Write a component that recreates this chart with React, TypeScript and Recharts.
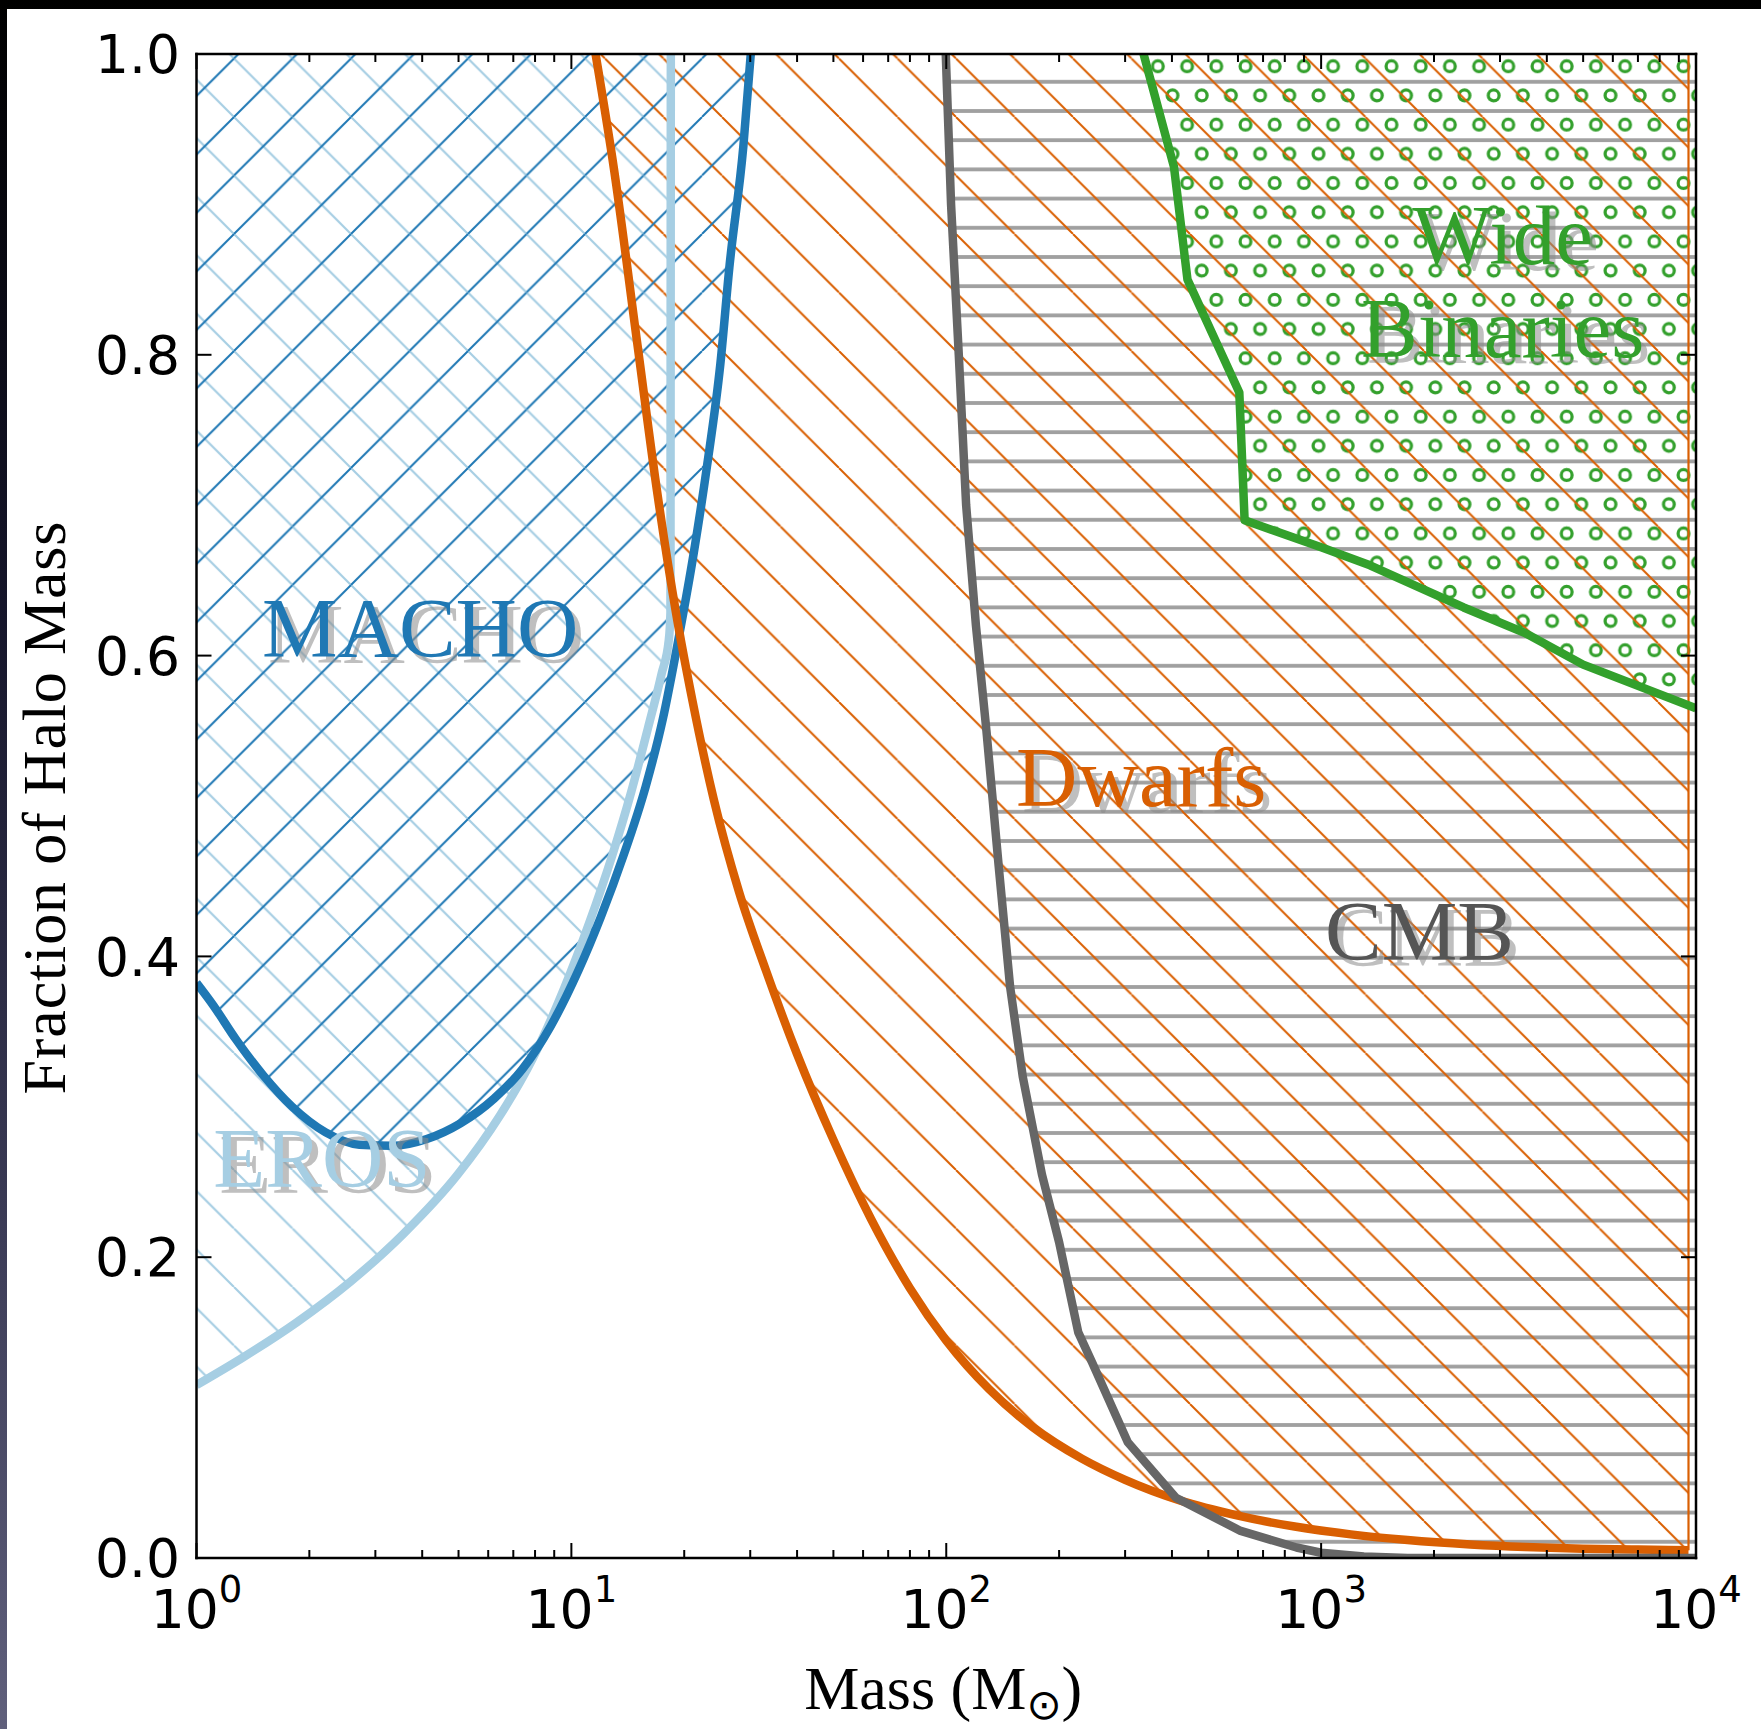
import React from 'react';
import { ComposedChart, Area, Line, XAxis, YAxis, ReferenceDot } from 'recharts';

// ---------------- data ----------------
const massMajorTicks = [1, 10, 100, 1000, 10000];
const massTickExponents = ['0', '1', '2', '3', '4'];
const massMinorTicks = [
  2, 3, 4, 5, 6, 7, 8, 9,
  20, 30, 40, 50, 60, 70, 80, 90,
  200, 300, 400, 500, 600, 700, 800, 900,
  2000, 3000, 4000, 5000, 6000, 7000, 8000, 9000,
];
const fractionTicks = [0, 0.2, 0.4, 0.6, 0.8, 1.0];
const fractionTickLabels = ['0.0', '0.2', '0.4', '0.6', '0.8', '1.0'];

// MACHO microlensing limit
const machoMass = [1.0, 1.109, 1.273, 1.513, 1.797, 2.211, 2.719, 3.345, 4.115, 5.059, 6.224, 7.394, 8.786, 10.44, 11.99, 13.76, 15.79, 17.54, 19.28, 21.21, 23.0, 24.97, 26.39, 28.76, 30.1];
const machoFraction = [0.3824, 0.3674, 0.345, 0.3204, 0.3002, 0.283, 0.2748, 0.2741, 0.2786, 0.289, 0.3055, 0.3249, 0.3532, 0.3906, 0.4264, 0.4668, 0.5131, 0.5579, 0.6102, 0.6684, 0.7259, 0.7939, 0.8581, 0.9388, 1.0];

// EROS microlensing limit
const erosMass = [1.0, 1.335, 1.853, 2.573, 3.573, 4.966, 6.449, 7.868, 9.565, 11.15, 12.84, 14.44, 16.01, 17.4, 18.19, 18.38, 18.42];
const erosFraction = [0.115, 0.1336, 0.1568, 0.1837, 0.2158, 0.2547, 0.2942, 0.3316, 0.3787, 0.422, 0.4668, 0.5093, 0.5519, 0.5878, 0.6102, 0.6288, 1.0];

// Dwarf galaxies limit
const dwarfMass = [11.6, 13, 15, 17, 19, 21, 24, 28, 33, 40, 50, 63, 80, 100, 130, 170, 230, 300, 420, 600, 850, 1200, 1700, 2500, 3500, 5000, 7000, 9550];
const dwarfFraction = [1.0, 0.923, 0.807, 0.706, 0.629, 0.571, 0.504, 0.443, 0.391, 0.335, 0.278, 0.2254, 0.1794, 0.1445, 0.1123, 0.0871, 0.0661, 0.052, 0.0383, 0.0282, 0.0209, 0.0157, 0.0119, 0.009, 0.0073, 0.0062, 0.0056, 0.0052];
const dwarfEdgeMass = [9550, 9550];
const dwarfEdgeFraction = [0.0052, 1.0];

// CMB limit
const cmbMass = [99.7, 103, 108, 113, 120, 128, 138, 148, 160, 180, 200, 225, 245, 305, 410, 610, 860, 1000, 1300, 1700, 3000, 10000];
const cmbFraction = [1.0, 0.90, 0.80, 0.70, 0.62, 0.55, 0.46, 0.38, 0.32, 0.255, 0.21, 0.15, 0.13, 0.077, 0.040, 0.018, 0.007, 0.0035, 0.001, 0, 0, 0];

// Wide binaries limit
const binaryMass = [336, 405, 440, 605, 625, 1000, 1350, 2400, 3500, 5000, 10000];
const binaryFraction = [1.0, 0.925, 0.85, 0.775, 0.69, 0.672, 0.66, 0.632, 0.615, 0.594, 0.565];

// annotations
const annotationText = ['MACHO', 'EROS', 'Dwarfs', 'CMB', 'Wide', 'Binaries'];
const annotationMass = [1.495, 1.109, 153.6, 1024, 3050, 3050];
const annotationFraction = [0.599, 0.2466, 0.4997, 0.3974, 0.8604, 0.7985];

// ---------------- styles ----------------
const C_MACHO = '#1f78b4';
const C_EROS = '#a6cee3';
const C_DWARF = '#d95f02';
const C_CMB = '#666666';
const C_BIN = '#33a02c';
const annotationColors = [C_MACHO, C_EROS, C_DWARF, '#555555', C_BIN, C_BIN];
const annotationAnchors = ['start', 'start', 'start', 'start', 'middle', 'middle'];

const S = 58.5; // diagonal hatch spacing
const P = 29.2; // horizontal / circle hatch spacing
const LW = 8.5; // curve width

const toTable = (ms: number[], fs: number[]) =>
  ms.map((m, i) => ({ m, f: fs[i], band: [fs[i], 1] }));

const machoData = toTable(machoMass, machoFraction);
const erosData = toTable(erosMass, erosFraction);
const dwarfData = toTable(dwarfMass, dwarfFraction);
const dwarfEdge = toTable(dwarfEdgeMass, dwarfEdgeFraction);
const cmbData = toTable(cmbMass, cmbFraction);
const binaryData = toTable(binaryMass, binaryFraction);

const allMassTicks = [...massMajorTicks, ...massMinorTicks].sort((a, b) => a - b);
const majorIndex = (v: number) => massMajorTicks.findIndex((t) => Math.abs(t - v) < 1e-9);

const TICK_FONT = 'DejaVu Sans';
const SERIF = '"Liberation Serif", "Times New Roman", serif';

const BottomTick = (props: any) => {
  const { x, y, payload } = props;
  const idx = majorIndex(payload.value);
  const major = idx >= 0;
  return (
    <g>
      <line x1={x} y1={y} x2={x} y2={y - (major ? 15 : 8)} stroke="#000" strokeWidth={2} />
      {major && (
        <text x={x} y={y + 70} textAnchor="middle" fontFamily={TICK_FONT} fontSize={53.5} fill="#000">
          <tspan>10</tspan>
          <tspan dy={-26} fontSize={37}>{massTickExponents[idx]}</tspan>
        </text>
      )}
    </g>
  );
};

const TopTick = (props: any) => {
  const { x, y, payload } = props;
  const major = majorIndex(payload.value) >= 0;
  return <line x1={x} y1={y} x2={x} y2={y + (major ? 15 : 8)} stroke="#000" strokeWidth={2} />;
};

const LeftTick = (props: any) => {
  const { x, y, payload } = props;
  const idx = fractionTicks.findIndex((t) => Math.abs(t - payload.value) < 1e-9);
  return (
    <g>
      <line x1={x} y1={y} x2={x + 15} y2={y} stroke="#000" strokeWidth={2} />
      <text x={x - 16.5} y={y} dy="0.36em" textAnchor="end" fontFamily={TICK_FONT} fontSize={53.5} fill="#000">
        {fractionTickLabels[idx]}
      </text>
    </g>
  );
};

const RightTick = (props: any) => {
  const { x, y } = props;
  return <line x1={x} y1={y} x2={x - 15} y2={y} stroke="#000" strokeWidth={2} />;
};

const makeAnnotation = (i: number) => (props: any) => {
  const { cx, cy } = props;
  const common = {
    fontFamily: SERIF,
    fontSize: 85,
    textAnchor: annotationAnchors[i] as any,
  };
  return (
    <g>
      <text x={cx + 6} y={cy + 6} fill="#8a8a8a" fillOpacity={0.55} {...common}>
        {annotationText[i]}
      </text>
      <text x={cx} y={cy} fill={annotationColors[i]} {...common}>
        {annotationText[i]}
      </text>
    </g>
  );
};

const XTitle = (props: any) => {
  const vb = props.viewBox || {};
  const cx = vb.x + vb.width / 2 - 3;
  const y = vb.y + 151;
  return (
    <text x={cx} y={y} textAnchor="middle" fontFamily={SERIF} fontSize={62} fill="#000">
      Mass (M
      <tspan dy={10} fontSize={42} fontFamily="DejaVu Sans">⊙</tspan>
      <tspan dy={-10}>)</tspan>
    </text>
  );
};

const YTitle = (props: any) => {
  const vb = props.viewBox || {};
  const x = vb.x + (vb.width || 0) - 131.5;
  const y = vb.y + vb.height / 2 + 2;
  return (
    <text
      transform={`translate(${x}, ${y}) rotate(-90)`}
      textAnchor="middle"
      fontFamily={SERIF}
      fontSize={62}
      fill="#000"
      textLength={573}
      lengthAdjust="spacing"
    >
      Fraction of Halo Mass
    </text>
  );
};

const axisLine = { stroke: '#000', strokeWidth: 2.5, strokeLinecap: 'square' as const };

export default function App() {
  return (
    <div
      style={{
        position: 'absolute',
        left: 0,
        top: 0,
        width: 1761,
        height: 1729,
        overflow: 'hidden',
        background: 'linear-gradient(#000000 0%, #15152a 35%, #3a3a55 70%, #60607c 100%)',
      }}
    >
      <div style={{ position: 'absolute', left: 7, top: 9, right: 0, bottom: 0, background: '#ffffff' }} />
      <div style={{ position: 'absolute', left: 0, top: 0 }}>
        <ComposedChart width={1761} height={1729} margin={{ top: 53, right: 64, bottom: 170, left: 195.5 }}>
          <defs>
            <pattern id="hatchMacho" patternUnits="userSpaceOnUse" width={S} height={S}>
              <path d={`M0,${S} L${S},0 M${-S},${S} L0,0 M${S},${S} L${2 * S},0`} stroke={C_MACHO} strokeWidth={2} />
            </pattern>
            <pattern id="hatchEros" patternUnits="userSpaceOnUse" width={S} height={S}>
              <path d={`M0,0 L${S},${S} M${-S},0 L0,${S} M${S},0 L${2 * S},${S}`} stroke={C_EROS} strokeWidth={2.2} />
            </pattern>
            <pattern id="hatchDwarf" patternUnits="userSpaceOnUse" width={S} height={S} x={20}>
              <path d={`M0,0 L${S},${S} M${-S},0 L0,${S} M${S},0 L${2 * S},${S}`} stroke={C_DWARF} strokeWidth={2} />
            </pattern>
            <pattern id="hatchCmb" patternUnits="userSpaceOnUse" width={P} height={P}>
              <rect x={0} y={23.4 - 1.9} width={P} height={3.8} fill="#a0a0a0" />
            </pattern>
            <pattern id="hatchBin" patternUnits="userSpaceOnUse" width={P} height={2 * P}>
              <circle cx={19.1} cy={7.8} r={5.4} fill="none" stroke={C_BIN} strokeWidth={3.2} />
              <circle cx={19.1 + P / 2 - P} cy={7.8 + P} r={5.4} fill="none" stroke={C_BIN} strokeWidth={3.2} />
              <circle cx={19.1 + P / 2} cy={7.8 + P} r={5.4} fill="none" stroke={C_BIN} strokeWidth={3.2} />
            </pattern>
          </defs>

          <Area data={cmbData} dataKey="band" type="linear" stroke="none" fill="url(#hatchCmb)" fillOpacity={1} isAnimationActive={false} activeDot={false} dot={false} />
          <Area data={binaryData} dataKey="band" type="linear" stroke="none" fill="url(#hatchBin)" fillOpacity={1} isAnimationActive={false} activeDot={false} dot={false} />
          <Area data={dwarfData} dataKey="band" type="monotoneX" stroke="none" fill="url(#hatchDwarf)" fillOpacity={1} isAnimationActive={false} activeDot={false} dot={false} />
          <Area data={erosData} dataKey="band" type="monotoneX" stroke="none" fill="url(#hatchEros)" fillOpacity={1} isAnimationActive={false} activeDot={false} dot={false} />
          <Area data={machoData} dataKey="band" type="monotoneX" stroke="none" fill="url(#hatchMacho)" fillOpacity={1} isAnimationActive={false} activeDot={false} dot={false} />

          <Line data={dwarfEdge} dataKey="f" type="linear" stroke={C_DWARF} strokeWidth={2.2} dot={false} activeDot={false} isAnimationActive={false} />
          <Line data={erosData} dataKey="f" type="monotoneX" stroke={C_EROS} strokeWidth={LW} dot={false} activeDot={false} isAnimationActive={false} />
          <Line data={machoData} dataKey="f" type="monotoneX" stroke={C_MACHO} strokeWidth={LW} dot={false} activeDot={false} isAnimationActive={false} />
          <Line data={dwarfData} dataKey="f" type="monotoneX" stroke={C_DWARF} strokeWidth={LW} dot={false} activeDot={false} isAnimationActive={false} />
          <Line data={cmbData} dataKey="f" type="linear" stroke={C_CMB} strokeWidth={LW} strokeLinejoin="round" dot={false} activeDot={false} isAnimationActive={false} />
          <Line data={binaryData} dataKey="f" type="linear" stroke={C_BIN} strokeWidth={LW} strokeLinejoin="round" dot={false} activeDot={false} isAnimationActive={false} />

          <XAxis
            dataKey="m"
            type="number"
            scale="log"
            domain={[1, 10000]}
            allowDataOverflow
            ticks={allMassTicks}
            interval={0}
            height={1}
            tickSize={0}
            tickMargin={0}
            tickLine={false}
            axisLine={axisLine}
            tick={BottomTick}
            label={{ content: XTitle }}
          />
          <XAxis
            xAxisId="top"
            orientation="top"
            dataKey="m"
            type="number"
            scale="log"
            domain={[1, 10000]}
            allowDataOverflow
            ticks={allMassTicks}
            interval={0}
            height={1}
            tickSize={0}
            tickMargin={0}
            tickLine={false}
            axisLine={axisLine}
            tick={TopTick}
          />
          <YAxis
            type="number"
            domain={[0, 1]}
            allowDataOverflow
            ticks={fractionTicks}
            interval={0}
            width={1}
            tickSize={0}
            tickMargin={0}
            tickLine={false}
            axisLine={axisLine}
            tick={LeftTick}
            label={{ content: YTitle }}
          />
          <YAxis
            yAxisId="right"
            orientation="right"
            type="number"
            domain={[0, 1]}
            allowDataOverflow
            ticks={fractionTicks}
            interval={0}
            width={1}
            tickSize={0}
            tickMargin={0}
            tickLine={false}
            axisLine={axisLine}
            tick={RightTick}
          />

          {annotationText.map((t, i) => (
            <ReferenceDot
              key={t}
              x={annotationMass[i]}
              y={annotationFraction[i]}
              r={0}
              fill="none"
              stroke="none"
              shape={makeAnnotation(i)}
            />
          ))}
        </ComposedChart>
      </div>
    </div>
  );
}
